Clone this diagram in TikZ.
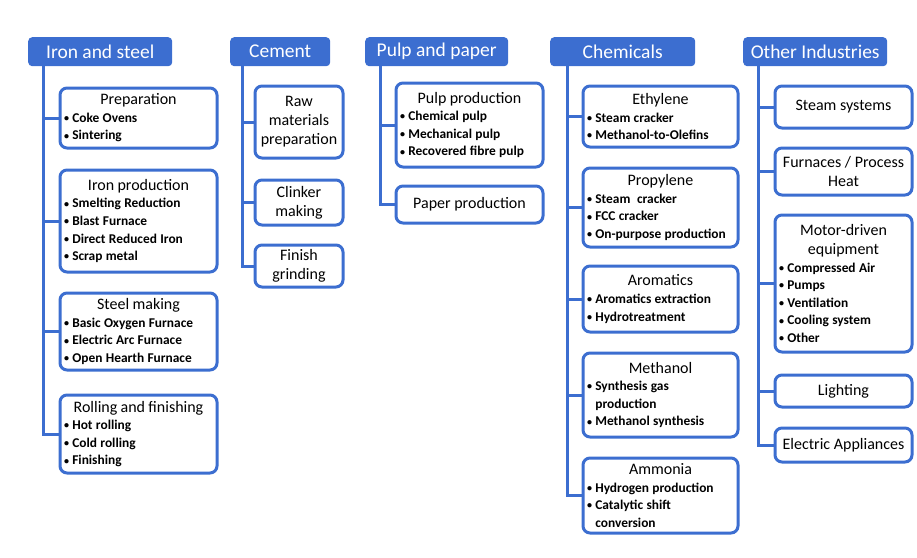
\documentclass[tikz,border=0pt]{standalone}
\usepackage{fontspec}
\setmainfont{Carlito}
\usepackage{tikz}

\definecolor{indblue}{RGB}{60,110,208}
\newcommand{\dotmark}{\makebox[0.62em][l]{\raisebox{0.12ex}{\scalebox{0.75}{\textbullet}}}}
\newcommand{\boxttl}[1]{{\centering\fontsize{16}{19}\selectfont #1\par}}
\newcommand{\itm}[1]{{\fontsize{13.4}{17.6}\selectfont\bfseries\noindent\dotmark#1\par}}
\newcommand{\itmc}[1]{{\fontsize{13.4}{17.6}\selectfont\bfseries\noindent\hspace*{0.62em}#1\par}}

\tikzset{
    hdr/.style={fill=indblue, rounded corners=4pt, text=white, font=\fontsize{19.5}{23}\selectfont,
        anchor=north west, inner sep=0pt, minimum height=29pt},
    sub/.style={draw=indblue, line width=3pt, rounded corners=7pt, fill=white,
        anchor=north west, inner xsep=4pt, inner ysep=0pt, align=left},
    plainsub/.style={sub, align=flush center, font=\fontsize{16}{19}\selectfont},
    trunk/.style={draw=indblue, line width=3pt}
}

\begin{document}
\begin{tikzpicture}[x=1pt, y=-1pt]
        \useasboundingbox (0,0) rectangle (917,557);

        \node[hdr, minimum width=144pt] (iron) at (28,37) {Iron and steel};
        \node[hdr, minimum width=100pt] (cement) at (230,37) {Cement};
        \node[hdr, minimum width=143pt] (pulp) at (365,37) {Pulp and paper};
        \node[hdr, minimum width=145pt] (chem) at (550,37) {Chemicals};
        \node[hdr, minimum width=144pt] (other) at (743,37) {Other Industries};

        \coordinate (irontop) at ([xshift=15pt]iron.south west);
        \coordinate (cementtop) at ([xshift=12pt]cement.south west);
        \coordinate (pulptop) at ([xshift=15pt]pulp.south west);
        \coordinate (chemtop) at ([xshift=17pt]chem.south west);
        \coordinate (othertop) at ([xshift=15pt]other.south west);

        \node[sub, text width=149pt, minimum height=60pt] (prep) at (58.5,86.5)
            {\boxttl{Preparation}\itm{Coke Ovens}\itm{Sintering}};
        \node[sub, text width=149pt, minimum height=102pt] (ironp) at (58.5,168.5)
            {\boxttl{Iron production}\itm{Smelting Reduction}\itm{Blast Furnace}\itm{Direct Reduced Iron}\itm{Scrap metal}};
        \node[sub, text width=149pt, minimum height=77pt] (steel) at (58.5,291.5)
            {\boxttl{Steel making}\itm{Basic Oxygen Furnace}\itm{Electric Arc Furnace}\itm{Open Hearth Furnace}};
        \node[sub, text width=149pt, minimum height=78pt] (roll) at (58.5,393.5)
            {\boxttl{Rolling and finishing}\itm{Hot rolling}\itm{Cold rolling}\itm{Finishing}};

        \node[plainsub, text width=80pt, minimum height=72pt] (raw) at (253.5,84.5)
            {Raw\\materials\\preparation};
        \node[plainsub, text width=80pt, minimum height=45pt] (clinker) at (253.5,178.5)
            {Clinker\\making};
        \node[plainsub, text width=80pt, minimum height=42pt] (finish) at (253.5,243.5)
            {Finish\\grinding};

        \node[sub, text width=139pt, minimum height=84pt] (pulpp) at (394.5,81.5)
            {\boxttl{Pulp production}\itm{Chemical pulp}\itm{Mechanical pulp}\itm{Recovered fibre pulp}};
        \node[plainsub, text width=139pt, minimum height=37pt] (paperp) at (394.5,184.5)
            {Paper production};

        \node[sub, text width=147pt, minimum height=61pt] (eth) at (581.5,84.5)
            {\boxttl{Ethylene}\itm{Steam cracker}\itm{Methanol-to-Olefins}};
        \node[sub, text width=147pt, minimum height=79pt] (prop) at (581.5,166.5)
            {\boxttl{Propylene}\itm{Steam\ \ cracker}\itm{FCC cracker}\itm{On-purpose production}};
        \node[sub, text width=147pt, minimum height=66pt] (arom) at (581.5,264.5)
            {\boxttl{Aromatics}\itm{Aromatics extraction}\itm{Hydrotreatment}};
        \node[sub, text width=147pt, minimum height=84pt] (meth) at (581.5,351.5)
            {\boxttl{Methanol}\itm{Synthesis gas}\itmc{production}\itm{Methanol synthesis}};
        \node[sub, text width=147pt, minimum height=75pt] (ammo) at (581.5,456.5)
            {\boxttl{Ammonia}\itm{Hydrogen production}\itm{Catalytic shift}\itmc{conversion}};

        \node[plainsub, text width=129pt, minimum height=42pt] (steam) at (773.5,84.5)
            {Steam systems};
        \node[plainsub, text width=129pt, minimum height=47pt] (furn) at (773.5,146.5)
            {Furnaces / Process\\Heat};
        \node[sub, text width=129pt, minimum height=137pt] (motor) at (773.5,213.5)
            {\boxttl{Motor-driven\\equipment}\itm{Compressed Air}\itm{Pumps}\itm{Ventilation}\itm{Cooling system}\itm{Other}};
        \node[plainsub, text width=129pt, minimum height=32pt] (light) at (773.5,373.5)
            {Lighting};
        \node[plainsub, text width=129pt, minimum height=34pt] (elec) at (773.5,426.5)
            {Electric Appliances};

        \draw[trunk] (irontop) |- (roll.west);
        \draw[trunk] (prep.west) -- (prep.west -| irontop);
        \draw[trunk] (ironp.west) -- (ironp.west -| irontop);
        \draw[trunk] (steel.west) -- (steel.west -| irontop);

        \draw[trunk] (cementtop) |- (finish.west);
        \draw[trunk] (raw.west) -- (raw.west -| cementtop);
        \draw[trunk] (clinker.west) -- (clinker.west -| cementtop);

        \draw[trunk] (pulptop) |- (paperp.west);
        \draw[trunk] (pulpp.west) -- (pulpp.west -| pulptop);

        \draw[trunk] (chemtop) |- (ammo.west);
        \draw[trunk] (eth.west) -- (eth.west -| chemtop);
        \draw[trunk] (prop.west) -- (prop.west -| chemtop);
        \draw[trunk] (arom.west) -- (arom.west -| chemtop);
        \draw[trunk] (meth.west) -- (meth.west -| chemtop);

        \draw[trunk] (othertop) |- (elec.west);
        \draw[trunk] (steam.west) -- (steam.west -| othertop);
        \draw[trunk] (furn.west) -- (furn.west -| othertop);
        \draw[trunk] (motor.west) -- (motor.west -| othertop);
        \draw[trunk] (light.west) -- (light.west -| othertop);
\end{tikzpicture}
\end{document}
